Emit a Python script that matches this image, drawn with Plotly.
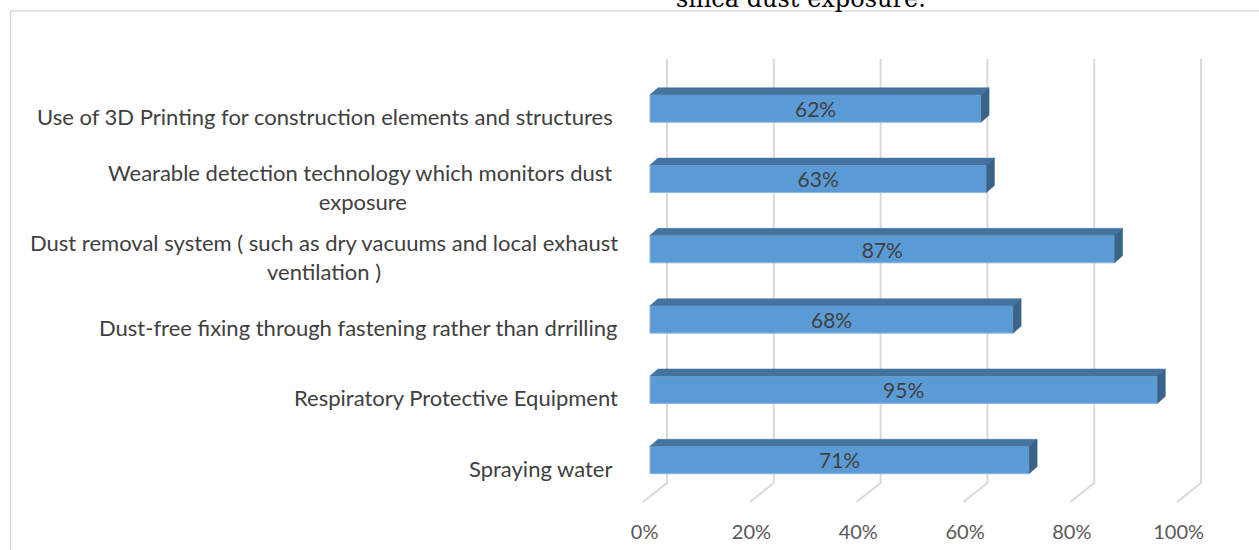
import plotly.graph_objects as go

# ---------------- data ----------------
categories = [
    "Spraying water\u00a0",
    "Respiratory Protective Equipment",
    "Dust-free fixing through fastening rather than drrilling",
    "Dust removal system ( such as dry vacuums and local exhaust<br>ventilation )",
    "Wearable detection technology which monitors dust\u00a0<br>exposure",
    "Use of 3D Printing for construction elements and structures\u00a0",
]
values = [71, 95, 68, 87, 63, 62]
bar_labels = ["71%", "95%", "68%", "87%", "63%", "62%"]
tick_values = [0, 20, 40, 60, 80, 100]
tick_labels = ["0%", "20%", "40%", "60%", "80%", "100%"]
title_text = "silica dust exposure."

# ---------------- geometry ----------------
W, H = 1259, 550
PX_PCT = 5.34      # pixels per percent (front plane)
X0 = 650           # pixel of 0% on bar front plane
PX_CAT = 70.3      # pixels per category
Y0 = 460           # pixel of first category centre
x_range = [-5, 110]
y_range = [-0.8, 5.9]


def xpx(v):
    return X0 + v * PX_PCT


def ypx(v):
    return Y0 - v * PX_CAT


def ydata(px):
    return (Y0 - px) / PX_CAT


x_dom = [xpx(x_range[0]) / W, xpx(x_range[1]) / W]
y_dom = [(H - ypx(y_range[0])) / H, (H - ypx(y_range[1])) / H]

BAR_W = 0.391
DX = 8 / PX_PCT
DY = 7 / PX_CAT
WALL_DX = 17 / PX_PCT
FLOOR_DX = -7 / PX_PCT
Y_WALL_BOT = ydata(483)
Y_WALL_TOP = ydata(59)
Y_FLOOR_FRONT = ydata(502)

FRONT = "#5B9BD5"
TOP = "#44739F"
SIDE = "#3A6388"
GRID = "#D9D9D9"
TXT = "#404040"
FONT = "Lato"

positions = list(range(len(categories)))

fig = go.Figure()

# front faces
fig.add_trace(go.Bar(
    x=values, y=positions, orientation="h", width=BAR_W,
    marker=dict(color=FRONT, line=dict(color="#8DB7E2", width=1)),
    text=bar_labels, textposition="inside", insidetextanchor="middle",
    constraintext="none",
    textfont=dict(family=FONT, size=21, color=TXT),
    hoverinfo="skip", showlegend=False,
))

# top and side faces
tx, ty, sx, sy = [], [], [], []
for p, v in zip(positions, values):
    top = p + BAR_W / 2
    bot = p - BAR_W / 2
    tx += [0, v, v + DX, DX, 0, None]
    ty += [top, top, top + DY, top + DY, top, None]
    sx += [v, v, v + DX, v + DX, v, None]
    sy += [bot, top, top + DY, bot + DY, bot, None]
fig.add_trace(go.Scatter(x=tx, y=ty, mode="lines", fill="toself", fillcolor=TOP,
                         line=dict(color=TOP, width=0.5), hoverinfo="skip", showlegend=False))
fig.add_trace(go.Scatter(x=sx, y=sy, mode="lines", fill="toself", fillcolor=SIDE,
                         line=dict(color=SIDE, width=0.5), hoverinfo="skip", showlegend=False))

# gridlines (back wall + floor)
for t in tick_values:
    xb = t + WALL_DX
    fig.add_shape(type="path", xref="x", yref="y", layer="below",
                  path=f"M {xb} {Y_WALL_TOP} L {xb} {Y_WALL_BOT} L {t + FLOOR_DX} {Y_FLOOR_FRONT}",
                  line=dict(color=GRID, width=2))

# category labels
for p, c in zip(positions, categories):
    fig.add_annotation(x=620 / W, xref="paper", y=p, yref="y", yshift=-8,
                       text=c, showarrow=False, xanchor="right", yanchor="middle",
                       align="center", font=dict(family=FONT, size=22, color=TXT))

# partial title (cut off at the top edge, as in the original)
fig.add_annotation(x=801 / W, xref="paper", y=1 - 15 / H, yref="paper",
                   text=title_text, showarrow=False, xanchor="center", yanchor="bottom",
                   font=dict(family="DejaVu Serif", size=24, color="#000000"))

# chart border
fig.add_shape(type="rect", xref="paper", yref="paper",
              x0=10.5 / W, x1=1.05, y0=-0.05, y1=1 - 11 / H,
              line=dict(color="#D9D9D9", width=1.5), layer="below")

fig.update_layout(
    width=W, height=H,
    margin=dict(l=0, r=0, t=0, b=0),
    paper_bgcolor="white", plot_bgcolor="white",
    xaxis=dict(domain=x_dom, range=x_range, showgrid=False, zeroline=False,
               showline=False, ticks="", ticklabelstandoff=2,
               tickvals=[t - 1.0 for t in tick_values], ticktext=tick_labels,
               tickfont=dict(family=FONT, size=20, color="#595959")),
    yaxis=dict(domain=y_dom, range=y_range, showgrid=False, zeroline=False,
               showline=False, showticklabels=False, ticks=""),
    showlegend=False,
)

fig.write_html("out.html")
